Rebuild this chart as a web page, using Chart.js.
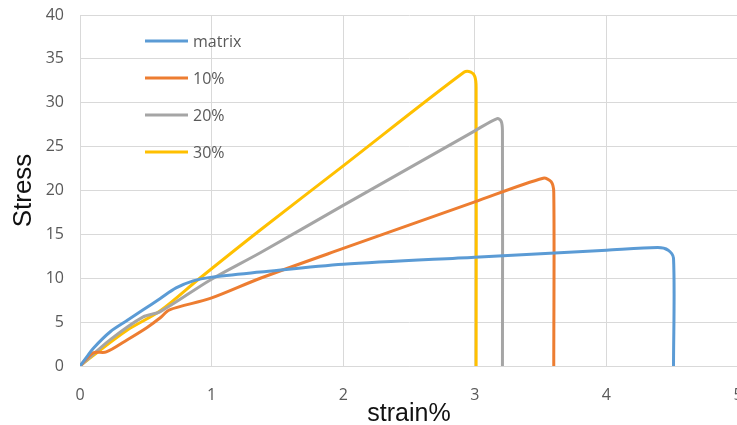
<!DOCTYPE html>
<html>
<head>
<meta charset="utf-8">
<script src="https://cdn.jsdelivr.net/npm/chart.js@4.4.1/dist/chart.umd.min.js"></script>
<style>
  html, body { margin: 0; padding: 0; background: #fff; overflow: hidden; }
  #wrap { width: 780px; height: 425px; position: relative; }
</style>
</head>
<body>
<div id="wrap"><canvas id="c"></canvas></div>
<script>
// Stress–strain curves: strain in %, stress values
const seriesNames = ['matrix', '10%', '20%', '30%'];
const seriesColors = ['#5B9BD5', '#ED7D31', '#A5A5A5', '#FFC000'];

const matrixStrain = [0, 0.05, 0.10, 0.23, 0.36, 0.48, 0.61, 0.73, 0.86, 0.99, 1.37, 2.0, 3.0, 4.0, 4.39, 4.47, 4.51, 4.51];
const matrixStress = [0, 1.0, 2.0, 3.9, 5.2, 6.4, 7.7, 8.9, 9.7, 10.1, 10.7, 11.6, 12.4, 13.2, 13.5, 13.2, 12.3, 0];

const s10Strain = [0, 0.10, 0.20, 0.36, 0.51, 0.61, 0.68, 0.99, 1.37, 2.0, 3.0, 3.52, 3.58, 3.60, 3.60];
const s10Stress = [0, 1.5, 1.6, 3.0, 4.4, 5.5, 6.4, 7.7, 10.0, 13.4, 18.7, 21.4, 21.0, 19.8, 0];

const s20Strain = [0, 0.23, 0.48, 0.61, 0.99, 1.37, 2.0, 3.0, 3.17, 3.20, 3.21, 3.21];
const s20Stress = [0, 3.0, 5.6, 6.2, 9.8, 12.9, 18.3, 26.8, 28.2, 27.9, 26.8, 0];

const s30Strain = [0, 0.10, 0.36, 0.61, 0.91, 1.37, 2.0, 2.92, 2.97, 3.00, 3.01, 3.01];
const s30Stress = [0, 1.2, 4.1, 6.3, 10.0, 15.5, 22.8, 33.5, 33.5, 33.0, 31.8, 0];

const xTicks = [0, 1, 2, 3, 4, 5];
const yTicks = [0, 5, 10, 15, 20, 25, 30, 35, 40];

function toPoints(xs, ys) {
  return xs.map((x, i) => ({ x: x, y: ys[i] }));
}

const curves = [
  toPoints(matrixStrain, matrixStress),
  toPoints(s10Strain, s10Stress),
  toPoints(s20Strain, s20Stress),
  toPoints(s30Strain, s30Stress)
];

const datasets = curves.map((pts, i) => ({
  label: seriesNames[i],
  data: pts,
  borderColor: seriesColors[i],
  backgroundColor: seriesColors[i],
  borderWidth: 3,
  pointRadius: 0,
  tension: 0.3,
  fill: false
}));

// Legend drawn inside the plot, one entry per row
const insideLegend = {
  id: 'insideLegend',
  afterDatasetsDraw(chart) {
    const ctx = chart.ctx;
    ctx.save();
    ctx.font = '16px "Open Sans", sans-serif';
    ctx.textBaseline = 'middle';
    ctx.lineWidth = 3;
    chart.data.datasets.forEach((ds, i) => {
      const y = 41 + i * 37;
      ctx.strokeStyle = ds.borderColor;
      ctx.beginPath();
      ctx.moveTo(145, y);
      ctx.lineTo(188, y);
      ctx.stroke();
      ctx.fillStyle = '#595959';
      ctx.fillText(ds.label, 193, y + 1);
    });
    ctx.restore();
  }
};

new Chart(document.getElementById('c'), {
  type: 'line',
  data: { datasets: datasets },
  plugins: [insideLegend],
  options: {
    responsive: true,
    maintainAspectRatio: false,
    animation: false,
    layout: { padding: { left: 11, right: 42, top: 15, bottom: 0 } },
    plugins: { legend: { display: false }, tooltip: { enabled: false } },
    scales: {
      x: {
        type: 'linear',
        min: 0,
        max: 5,
        afterBuildTicks(scale) { scale.ticks = xTicks.map(v => ({ value: v })); },
        afterFit(scale) { scale.height = 59; scale.paddingLeft = 0; scale.paddingRight = 0; },
        grid: { color: '#D9D9D9', lineWidth: 1, drawTicks: false },
        border: { color: '#D9D9D9' },
        ticks: {
          color: '#595959',
          font: { family: '"Open Sans", sans-serif', size: 16 },
          padding: 20,
          maxRotation: 0
        },
        title: {
          display: true,
          text: 'strain%',
          color: '#111',
          font: { family: '"Liberation Sans", Arial, sans-serif', size: 25, lineHeight: 1 },
          padding: { top: 0, bottom: -2 }
        }
      },
      y: {
        min: 0,
        max: 40,
        afterBuildTicks(scale) { scale.ticks = yTicks.map(v => ({ value: v })); },
        afterFit(scale) { scale.width = 69; scale.paddingTop = 0; scale.paddingBottom = 0; },
        grid: { color: '#D9D9D9', lineWidth: 1, drawTicks: false },
        border: { color: '#D9D9D9' },
        ticks: {
          color: '#595959',
          font: { family: '"Open Sans", sans-serif', size: 16 },
          padding: 16
        },
        title: {
          display: true,
          text: 'Stress',
          color: '#111',
          font: { family: '"Liberation Sans", Arial, sans-serif', size: 26, lineHeight: 1 },
          padding: { top: 0, bottom: 0 }
        }
      }
    }
  }
});
</script>
</body>
</html>
